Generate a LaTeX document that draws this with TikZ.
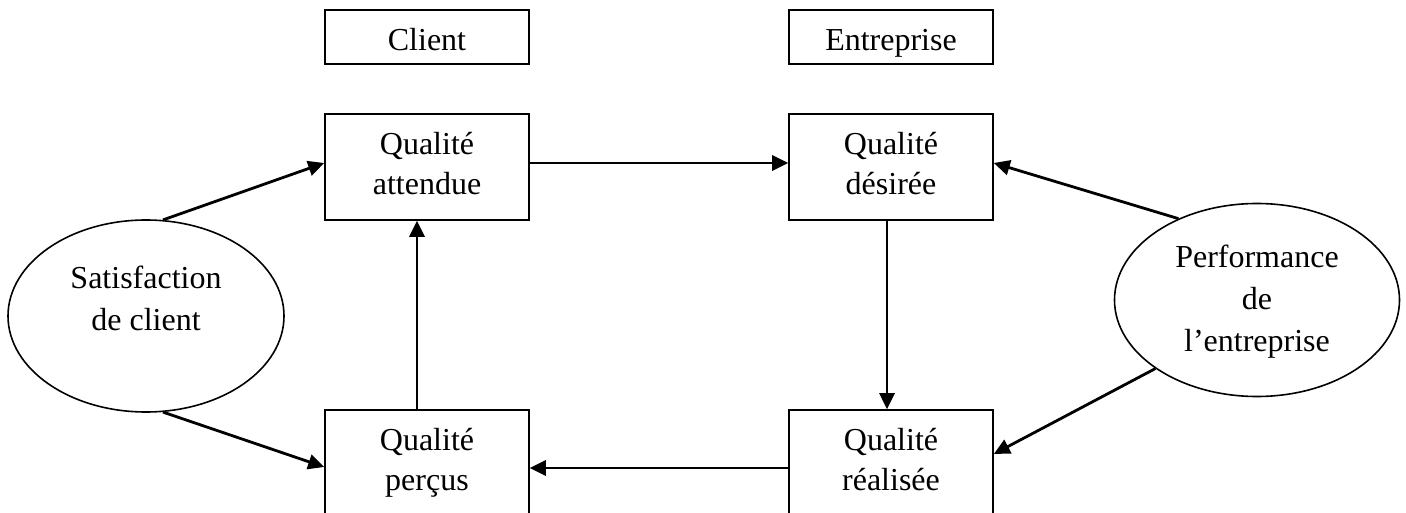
\documentclass[tikz,border=0pt]{standalone}
\usepackage{fontspec}
\setmainfont{Liberation Serif}
\usetikzlibrary{shapes.geometric,arrows.meta}
\begin{document}
\begin{tikzpicture}[x=1pt,y=-1pt,
  every node/.style={font=\fontsize{32}{40}\selectfont},
  titlebox/.style={draw,line width=1.6pt,minimum width=204pt,minimum height=54pt,inner sep=0pt,text height=27pt,text depth=0pt},
  qbox/.style={draw,line width=1.6pt,minimum width=204pt,minimum height=106pt,inner sep=0pt,align=center,text depth=8pt},
  ell/.style={draw,ellipse,line width=1.6pt,inner sep=0pt},
  etext/.style={align=center,inner sep=0pt,font=\fontsize{32}{42}\selectfont},
  arr/.style={line width=2.8pt,-{Triangle[length=16pt,width=15pt]}}]
\useasboundingbox (0,0) rectangle (1406,513);
\clip (0,0) rectangle (1406,513);
\node[titlebox] (client) at (427,37) {Client};
\node[titlebox] (entr) at (891,37) {Entreprise};
\node[qbox] (att) at (427,167) {Qualité\\attendue};
\node[qbox] (des) at (891,167) {Qualité\\désirée};
\node[qbox] (per) at (427,463) {Qualité\\perçus};
\node[qbox] (rea) at (891,463) {Qualité\\réalisée};
\node[ell,minimum width=276pt,minimum height=192pt] (sat) at (146,316) {};
\node[ell,minimum width=285pt,minimum height=193pt] (perf) at (1257,300) {};
\node[etext] (sattext) at (146,298) {Satisfaction\\de client};
\node[etext] (perftext) at (1257,302) {Performance\\de\\l’entreprise};
\draw[arr] ([yshift=4pt]att.east) -- ([yshift=4pt]des.west);
\draw[arr] ([yshift=-5pt]rea.west) -- ([yshift=-5pt]per.east);
\draw[arr] ([xshift=-10pt]per.north) -- ([xshift=-10pt]att.south);
\draw[arr] ([xshift=-4pt]des.south) -- ([xshift=-4pt]rea.north);
\draw[arr] (sat.80) -- ([yshift=4pt]att.west);
\draw[arr] (sat.-80) -- ([yshift=-4pt]per.west);
\draw[arr] (perf.134) -- ([yshift=4pt]des.east);
\draw[arr] (perf.214) -- ([yshift=9pt]rea.east);
\end{tikzpicture}
\end{document}
